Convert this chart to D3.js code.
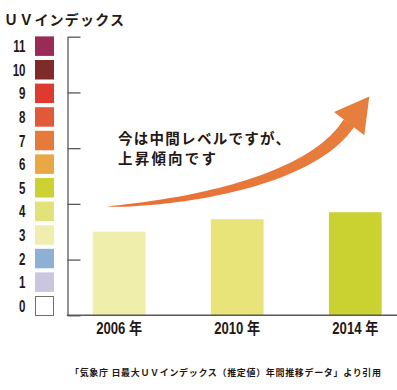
<!DOCTYPE html>
<html>
<head>
<meta charset="utf-8">
<script src="https://cdn.jsdelivr.net/npm/d3@7"></script>
<style>
  body { margin: 0; background: #fff; }
  svg { display: block; }
  .jp { font-family: "Noto Sans CJK JP", sans-serif; font-weight: 700; fill: #231815; }
  .num { font-family: "Liberation Sans Narrow", "Liberation Sans", sans-serif; font-weight: 700; fill: #231815; }
</style>
</head>
<body>
<svg id="plot"></svg>
<script>
// UV index legend levels and colours
var uvLevels = [0, 1, 2, 3, 4, 5, 6, 7, 8, 9, 10, 11];
var uvColors = ['#ffffff', '#cbc6e0', '#8fb0d5', '#f0eeae', '#e2e27a', '#cbd231',
                '#eaa845', '#e57a3a', '#e05a3a', '#de3a2f', '#7f2b2a', '#9a2a56'];

// yearly values
var years = ['2006 年', '2010 年', '2014 年'];
var uvValues = [3.0, 3.45, 3.7];
var barColors = ['#f0eeab', '#e8e47a', '#cad232'];
var yTicks = [0, 2, 4, 6, 8, 10];

var width = 397, height = 390;

var svg = d3.select('#plot')
  .attr('width', width)
  .attr('height', height);

// Scales
var yScale = d3.scaleLinear()
  .domain([0, 10])
  .range([315.3, 36.7]);

var xScale = d3.scaleBand()
  .domain(years)
  .range([67, 407.4])
  .paddingInner(0.553)
  .paddingOuter(0.218);

var legendY = d3.scaleLinear()
  .domain([0, 11])
  .range([296, 36.4]);

// Title
svg.append('text')
  .attr('class', 'jp')
  .attr('x', 4)
  .attr('y', 24.5)
  .attr('textLength', 120)
  .attr('lengthAdjust', 'spacing')
  .style('font-size', '14px')
  .text('ＵＶインデックス');

// Legend squares
var legend = svg.selectAll('.legend')
  .data(uvLevels)
  .enter().append('g')
  .attr('class', 'legend')
  .attr('transform', function(d) { return 'translate(0,' + legendY(d) + ')'; });

legend.append('rect')
  .attr('x', function(d) { return d === 0 ? 35.5 : 35; })
  .attr('y', function(d) { return d === 0 ? 0.5 : 0; })
  .attr('width', function(d) { return d === 0 ? 18 : 19; })
  .attr('height', function(d) { return d === 0 ? 19 : 19.5; })
  .attr('fill', function(d, i) { return uvColors[i]; })
  .attr('stroke', function(d) { return d === 0 ? '#6f6f6f' : 'none'; })
  .attr('stroke-width', 1);

// condensed digits: squeeze horizontally
legend.append('text')
  .attr('class', 'num')
  .attr('transform', 'translate(25.5,15.7) scale(0.72,1)')
  .style('text-anchor', 'end')
  .style('font-size', '16px')
  .text(function(d) { return d; });

// Bars
svg.selectAll('.bar')
  .data(uvValues)
  .enter().append('rect')
    .attr('class', 'bar')
    .attr('x', function(d, i) { return xScale(years[i]); })
    .attr('y', function(d) { return yScale(d); })
    .attr('width', xScale.bandwidth())
    .attr('height', function(d) { return yScale(0) - yScale(d); })
    .attr('fill', function(d, i) { return barColors[i]; });

// Y axis (ticks pointing right, no labels)
var yAxis = svg.append('g')
  .attr('transform', 'translate(67.5,0)')
  .call(d3.axisRight(yScale).tickValues(yTicks).tickSize(13).tickFormat('').tickSizeOuter(0));
yAxis.select('.domain').attr('stroke', '#595757').attr('stroke-width', 1.3);
yAxis.selectAll('.tick line').attr('stroke', '#595757').attr('stroke-width', 1.3);

// X axis
var xAxis = svg.append('g')
  .attr('transform', 'translate(0,' + yScale(0) + ')')
  .call(d3.axisBottom(xScale).tickSize(0).tickSizeOuter(0));
xAxis.select('.domain')
  .attr('d', 'M66.8,0H397')
  .attr('stroke', '#595757')
  .attr('stroke-width', 1.6);
xAxis.selectAll('.tick text')
  .attr('class', 'num')
  .attr('y', 19.2)
  .attr('dy', null)
  .attr('textLength', 46)
  .attr('lengthAdjust', 'spacingAndGlyphs')
  .style('font-size', '16px')
  .style('font-family', '"Liberation Sans Narrow", "Liberation Sans", "Noto Sans CJK JP", sans-serif')
  .style('fill', '#231815');

// Trend arrow (annotation placed in chart coordinates)
var defs = svg.append('defs');
var grad = defs.append('linearGradient')
  .attr('id', 'arrowGrad')
  .attr('x1', '0%').attr('x2', '100%').attr('y1', '0%').attr('y2', '0%');
grad.append('stop').attr('offset', '0%').attr('stop-color', '#e96d36');
grad.append('stop').attr('offset', '100%').attr('stop-color', '#e67e3d');

var p0 = [107, yScale(3.9)], c1 = [180, yScale(4.02)],
    c2 = [310, yScale(4.76)], p3 = [349, yScale(6.9)];
function bez(t) {
  var u = 1 - t;
  return [
    u*u*u*p0[0] + 3*u*u*t*c1[0] + 3*u*t*t*c2[0] + t*t*t*p3[0],
    u*u*u*p0[1] + 3*u*u*t*c1[1] + 3*u*t*t*c2[1] + t*t*t*p3[1]
  ];
}
var upper = [], lower = [];
var n = 40;
for (var k = 0; k <= n; k++) {
  var t = k / n;
  var a = bez(Math.max(0, t - 0.01)), b = bez(Math.min(1, t + 0.01));
  var dx = b[0] - a[0], dy = b[1] - a[1], len = Math.sqrt(dx*dx + dy*dy);
  var nx = -dy / len, ny = dx / len;
  var w = 6.5 * Math.pow(t, 0.7);
  var p = bez(t);
  upper.push([p[0] + nx * w, p[1] + ny * w]);
  lower.push([p[0] - nx * w, p[1] - ny * w]);
}
var shaft = upper.concat(lower.reverse());
svg.append('path')
  .attr('d', d3.line()(shaft) + 'Z')
  .attr('fill', 'url(#arrowGrad)');

svg.append('path')
  .attr('d', d3.line()([[334, yScale(7.3)], [369.3, yScale(7.85)], [364.3, yScale(6.46)]]) + 'Z')
  .attr('fill', '#e67e3d');

// Annotation text
svg.append('text')
  .attr('class', 'jp')
  .attr('x', 118)
  .attr('y', 143.5)
  .attr('textLength', 172)
  .attr('lengthAdjust', 'spacing')
  .style('font-size', '14.5px')
  .text('今は中間レベルですが、');

svg.append('text')
  .attr('class', 'jp')
  .attr('x', 118)
  .attr('y', 163.5)
  .attr('textLength', 98)
  .attr('lengthAdjust', 'spacing')
  .style('font-size', '14.5px')
  .text('上昇傾向です');

// Source note
svg.append('text')
  .attr('class', 'jp')
  .attr('x', 70)
  .attr('y', 375.5)
  .attr('textLength', 311)
  .attr('lengthAdjust', 'spacing')
  .style('font-size', '9px')
  .text('「気象庁 日最大ＵＶインデックス（推定値）年間推移データ」より引用');
</script>
</body>
</html>
